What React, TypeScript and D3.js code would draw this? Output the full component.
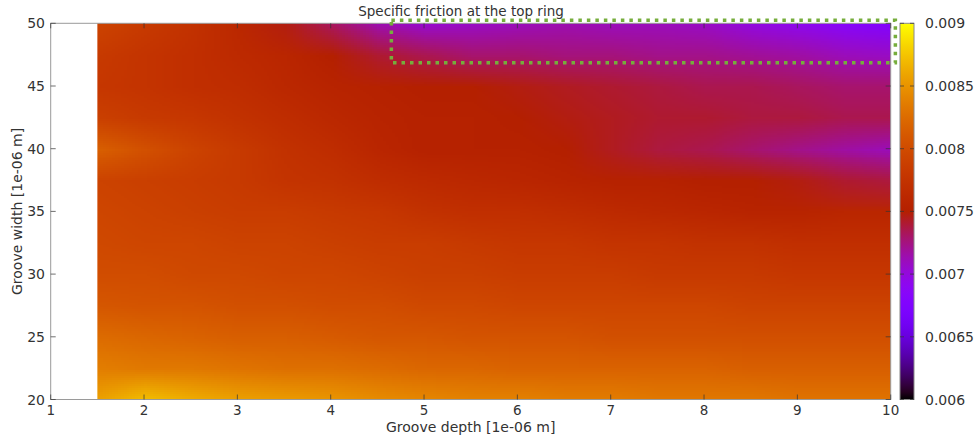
import React, { useMemo } from "react";
import * as d3 from "d3";

// Groove depth [1e-06 m] grid nodes
const depths = [1.5, 2, 2.5, 3, 3.5, 4, 4.5, 5, 5.5, 6, 6.5, 7, 7.5, 8, 8.5, 9, 9.5, 10];
// Groove width [1e-06 m] grid nodes
const widths = [20, 22.5, 25, 27.5, 30, 32.5, 35, 37.5, 40, 42.5, 45, 47.5, 50];
// Specific friction at the top ring, one row per groove width (same order as widths)
const friction = [
  [0.00858, 0.00873, 0.00864, 0.00858, 0.00855, 0.00852, 0.00846, 0.00843, 0.0084, 0.0084, 0.00837, 0.00837, 0.00834, 0.00834, 0.00834, 0.00831, 0.00831, 0.00831],
  [0.00837, 0.00834, 0.00834, 0.00831, 0.00828, 0.00828, 0.00825, 0.00822, 0.00822, 0.00819, 0.00819, 0.00819, 0.00819, 0.00819, 0.00816, 0.00816, 0.00816, 0.00816],
  [0.00825, 0.00822, 0.00819, 0.00816, 0.00816, 0.00813, 0.0081, 0.0081, 0.00807, 0.00807, 0.00807, 0.00804, 0.00804, 0.00804, 0.00804, 0.00804, 0.00804, 0.00804],
  [0.0081, 0.00807, 0.00807, 0.00804, 0.00804, 0.00801, 0.00801, 0.00798, 0.00798, 0.00795, 0.00795, 0.00795, 0.00795, 0.00795, 0.00792, 0.00792, 0.00792, 0.00792],
  [0.00801, 0.00801, 0.00798, 0.00798, 0.00795, 0.00795, 0.00792, 0.00789, 0.00789, 0.00786, 0.00786, 0.00786, 0.00783, 0.00783, 0.00783, 0.0078, 0.0078, 0.0078],
  [0.00798, 0.00795, 0.00795, 0.00792, 0.00792, 0.00789, 0.00786, 0.00786, 0.00783, 0.0078, 0.0078, 0.00777, 0.00777, 0.00774, 0.00774, 0.00771, 0.00771, 0.00771],
  [0.00795, 0.00792, 0.00789, 0.00786, 0.00786, 0.00783, 0.0078, 0.00774, 0.00771, 0.00771, 0.00768, 0.00765, 0.00762, 0.00759, 0.00756, 0.00756, 0.00759, 0.00759],
  [0.00792, 0.00789, 0.00786, 0.00783, 0.00777, 0.00774, 0.00768, 0.00765, 0.00762, 0.00759, 0.00756, 0.00753, 0.00753, 0.0075, 0.0075, 0.00747, 0.00741, 0.00738],
  [0.00816, 0.00804, 0.00792, 0.00783, 0.00774, 0.00768, 0.00759, 0.00753, 0.00753, 0.00753, 0.0075, 0.00744, 0.00738, 0.00735, 0.00729, 0.00723, 0.00717, 0.00711],
  [0.00789, 0.00783, 0.0078, 0.00774, 0.00768, 0.00762, 0.00756, 0.00753, 0.00753, 0.0075, 0.00747, 0.00744, 0.00741, 0.00741, 0.00738, 0.00738, 0.00735, 0.00735],
  [0.0078, 0.00777, 0.00771, 0.00768, 0.00762, 0.00756, 0.00753, 0.0075, 0.0075, 0.00747, 0.00744, 0.00741, 0.00738, 0.00735, 0.00735, 0.00732, 0.00729, 0.00729],
  [0.00783, 0.00777, 0.00771, 0.00765, 0.00759, 0.0075, 0.00741, 0.00735, 0.00729, 0.00729, 0.00726, 0.00726, 0.00723, 0.00723, 0.0072, 0.00717, 0.00711, 0.00708],
  [0.00792, 0.00783, 0.00774, 0.00762, 0.00747, 0.00732, 0.00714, 0.00705, 0.00708, 0.00711, 0.00714, 0.00711, 0.00711, 0.00708, 0.00699, 0.00693, 0.00684, 0.00678],
];

const xTicks = [1, 2, 3, 4, 5, 6, 7, 8, 9, 10];
const yTicks = [20, 25, 30, 35, 40, 45, 50];
const cbTicks = [0.006, 0.0065, 0.007, 0.0075, 0.008, 0.0085, 0.009];
const cbTickLabels = ["0.006", "0.0065", "0.007", "0.0075", "0.008", "0.0085", "0.009"];
const cbDomain = [0.006, 0.009];
// highlighted region (depth range, width range)
const highlightDepth = [4.65, 10.05];
const highlightWidth = [46.85, 50.25];

const title = "Specific friction at the top ring";
const xLabel = "Groove depth [1e-06 m]";
const yLabel = "Groove width [1e-06 m]";

const W = 979;
const H = 437;
const FONT = "'DejaVu Sans', Verdana, sans-serif";

// gnuplot default pm3d palette (rgbformulae 7,5,15)
function palette(t: number): [number, number, number] {
  const c = Math.max(0, Math.min(1, t));
  const r = Math.sqrt(c);
  const g = c * c * c;
  const b = Math.max(0, Math.sin(2 * Math.PI * c));
  return [Math.round(r * 255), Math.round(g * 255), Math.round(b * 255)];
}

export default function App() {
  const x = d3.scaleLinear().domain([1, 10]).range([50.7, 890.7]);
  const y = d3.scaleLinear().domain([20, 50]).range([399.5, 23.3]);
  const norm = d3.scaleLinear().domain(cbDomain).range([0, 1]).clamp(true);
  const color = (v: number) => {
    const [r, g, b] = palette(norm(v));
    return `rgb(${r},${g},${b})`;
  };

  const dx = depths[1] - depths[0];
  const dy = widths[1] - widths[0];

  const imgUrl = useMemo(() => {
    const nx = depths.length;
    const ny = widths.length;
    const canvas = document.createElement("canvas");
    canvas.width = nx;
    canvas.height = ny;
    const ctx = canvas.getContext("2d");
    if (!ctx) return "";
    const img = ctx.createImageData(nx, ny);
    for (let j = 0; j < ny; j++) {
      const row = friction[ny - 1 - j];
      for (let i = 0; i < nx; i++) {
        const [r, g, b] = palette(norm(row[i]));
        const k = (j * nx + i) * 4;
        img.data[k] = r;
        img.data[k + 1] = g;
        img.data[k + 2] = b;
        img.data[k + 3] = 255;
      }
    }
    ctx.putImageData(img, 0, 0);
    return canvas.toDataURL();
  }, []);

  const x0 = x(depths[0]);
  const x1 = x(depths[depths.length - 1]);
  const yTop = y(widths[widths.length - 1]);
  const yBot = y(widths[0]);

  const cbX = 900;
  const cbW = 14;
  const cb = d3.scaleLinear().domain(cbDomain).range([399.5, 23.3]);
  const stops = d3.range(0, 1.0001, 0.02);

  const left = x.range()[0];
  const right = x.range()[1];
  const top = y.range()[1];
  const bottom = y.range()[0];
  const tickLen = 5;

  return (
    <svg
      width={W}
      height={H}
      style={{ position: "absolute", left: 0, top: 0, background: "#fff", fontFamily: FONT }}
    >
      <defs>
        <clipPath id="dataClip">
          <rect x={x0} y={yTop} width={x1 - x0} height={yBot - yTop} />
        </clipPath>
        <linearGradient id="cbGrad" x1="0" y1="1" x2="0" y2="0">
          {stops.map((s) => (
            <stop key={s} offset={s} stopColor={color(cbDomain[0] + s * (cbDomain[1] - cbDomain[0]))} />
          ))}
        </linearGradient>
      </defs>

      {/* heatmap */}
      <g clipPath="url(#dataClip)">
        <image
          href={imgUrl}
          x={x(depths[0] - dx / 2)}
          y={y(widths[widths.length - 1] + dy / 2)}
          width={x(depths[depths.length - 1] + dx / 2) - x(depths[0] - dx / 2)}
          height={y(widths[0] - dy / 2) - y(widths[widths.length - 1] + dy / 2)}
          preserveAspectRatio="none"
          style={{ imageRendering: "auto" }}
        />
      </g>

      {/* frame */}
      <rect x={left} y={top} width={right - left} height={bottom - top} fill="none" stroke="#9a9a9a" strokeWidth={1} />

      {/* ticks */}
      {xTicks.map((t) => (
        <g key={"xt" + t}>
          <line x1={x(t)} x2={x(t)} y1={bottom} y2={bottom - tickLen} stroke="#333" strokeOpacity={0.7} />
          <line x1={x(t)} x2={x(t)} y1={top} y2={top + tickLen} stroke="#333" strokeOpacity={0.7} />
          <text x={x(t)} y={415} textAnchor="middle" fontSize={13.5} fill="#333">
            {t}
          </text>
        </g>
      ))}
      {yTicks.map((t) => (
        <g key={"yt" + t}>
          <line x1={left} x2={left + tickLen} y1={y(t)} y2={y(t)} stroke="#333" strokeOpacity={0.7} />
          <line x1={right} x2={right - tickLen} y1={y(t)} y2={y(t)} stroke="#333" strokeOpacity={0.7} />
          <text x={45} y={y(t) + 5} textAnchor="end" fontSize={14} fill="#333">
            {t}
          </text>
        </g>
      ))}

      {/* highlight box */}
      <rect
        x={x(highlightDepth[0])}
        y={y(highlightWidth[1])}
        width={x(highlightDepth[1]) - x(highlightDepth[0])}
        height={y(highlightWidth[0]) - y(highlightWidth[1])}
        fill="none"
        stroke="#76ad3c"
        strokeWidth={3.5}
        strokeDasharray="3.5 5"
      />

      {/* colorbar */}
      <rect x={cbX} y={cb(cbDomain[1])} width={cbW} height={cb(cbDomain[0]) - cb(cbDomain[1])} fill="url(#cbGrad)" stroke="#8a8a8a" strokeWidth={1} />
      {cbTicks.map((t, i) => (
        <g key={"cb" + i}>
          <line x1={cbX} x2={cbX + 4} y1={cb(t)} y2={cb(t)} stroke="#333" strokeOpacity={0.7} />
          <line x1={cbX + cbW} x2={cbX + cbW - 4} y1={cb(t)} y2={cb(t)} stroke="#333" strokeOpacity={0.7} />
          <text x={925} y={cb(t) + 5} fontSize={14} fill="#333">
            {cbTickLabels[i]}
          </text>
        </g>
      ))}

      {/* titles */}
      <text x={461} y={16} textAnchor="middle" fontSize={13.5} fill="#333">
        {title}
      </text>
      <text x={(left + right) / 2} y={432} textAnchor="middle" fontSize={14} fill="#333">
        {xLabel}
      </text>
      <text
        transform={`translate(22,${(top + bottom) / 2}) rotate(-90)`}
        textAnchor="middle"
        fontSize={14}
        fill="#333"
      >
        {yLabel}
      </text>
    </svg>
  );
}
